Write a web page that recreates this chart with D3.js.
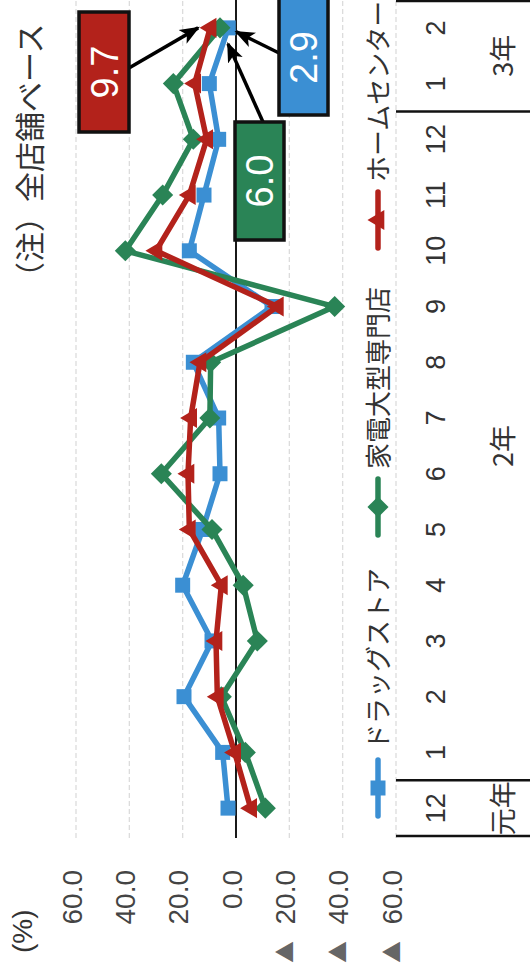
<!DOCTYPE html>
<html><head><meta charset="utf-8">
<script src="https://cdn.jsdelivr.net/npm/d3@7"></script>
<style>html,body{margin:0;padding:0;background:#fff;overflow:hidden}</style>
</head><body><svg id="c" width="530" height="975"></svg>
<script>
// ---------- data ----------
const months = ["12","1","2","3","4","5","6","7","8","9","10","11","12","1","2"];
const yearLabels = ["元年","2年","3年"];
const yearStarts = [0, 1, 13];
const yearEnds = [0, 12, 14];
const drugstore   = [3.0, 5.0, 19.5, 9.0, 20.0, 12.5, 6.0, 6.5, 16.0, -13.5, 17.5, 12.0, 6.5, 10.0, 2.9];
const homecenter  = [-5.5, 0.5, 7.0, 7.5, 5.5, 17.5, 18.0, 17.0, 13.5, -15.5, 30.0, 17.5, 11.0, 15.5, 9.7];
const electronics = [-11.0, -3.5, 5.5, -8.0, -2.7, 9.0, 28.0, 9.8, 9.5, -37.0, 41.5, 27.5, 16.0, 23.5, 6.0];
const seriesNames = ["ドラッグストア","家電大型専門店","ホームセンター"];
const yTicks = [60, 40, 20, 0, -20, -40, -60];
const yTickLabels = ["60.0","40.0","20.0","0.0","▲20.0","▲40.0","▲60.0"];
const calloutLabels = ["2.9","6.0","9.7"];
const noteText = "（注）全店舗ベース";
const unitText = "(%)";

// ---------- setup ----------
const W = 975, H = 530; // virtual (unrotated) frame
const svg = d3.select("#c");
const g = svg.append("g").attr("transform", "translate(0,975) rotate(-90)");
const NUM = "'Liberation Sans', Arial, sans-serif";
const JP = "'Noto Sans CJK JP', 'Noto Sans', sans-serif";

const x = d3.scaleBand().domain(d3.range(months.length)).range([139, 975]).padding(0);
const cx = i => x(i) + x.bandwidth() / 2;
const y = d3.scaleLinear().domain([-60, 60]).range([396, 76]);

const colors = ["#3b8fd3", "#2a8456", "#b3221b"];
const series = [drugstore, electronics, homecenter];

// gridlines
g.selectAll("line.grid").data(yTicks).join("line")
  .attr("x1", 137).attr("x2", W)
  .attr("y1", d => y(d)).attr("y2", d => y(d))
  .attr("stroke", d => d === 0 ? "#000" : "#dcdcdc")
  .attr("stroke-width", d => d === 0 ? 1.8 : 1.3)
  .attr("stroke-dasharray", d => d === 0 ? null : "5,3");

// y tick labels
yTicks.forEach((t, k) => {
  const lab = yTickLabels[k];
  const neg = lab.startsWith("▲");
  g.append("text").attr("x", 105).attr("y", y(t) - 4).attr("dy", "0.35em")
    .attr("text-anchor", "end").attr("font-family", NUM).attr("font-size", 28)
    .attr("fill", "#444").text(neg ? lab.slice(1) : lab);
  if (neg) {
    g.append("text").attr("x", 12).attr("y", y(t) - 4).attr("dy", "0.35em")
      .attr("font-family", JP).attr("font-size", 22).attr("fill", "#666").text("▲");
  }
});
g.append("text").attr("x", 22).attr("y", 32).attr("font-family", NUM).attr("font-size", 28)
  .attr("fill", "#333").text(unitText);

// note
g.append("text").attr("x", 683).attr("y", 41).attr("font-family", JP).attr("font-size", 30)
  .attr("fill", "#333").text(noteText);

// table (category axis)
g.selectAll("text.month").data(months).join("text")
  .attr("x", (d, i) => cx(i)).attr("y", 445).attr("text-anchor", "middle")
  .attr("font-family", NUM).attr("font-size", 27).attr("fill", "#333").text(d => d);
yearLabels.forEach((lab, k) => {
  const a = x(yearStarts[k]), b = x(yearEnds[k]) + x.bandwidth();
  g.append("text").attr("x", (a + b) / 2).attr("y", 513).attr("text-anchor", "middle")
    .attr("font-family", JP).attr("font-size", 27).attr("fill", "#333").text(lab);
});
const bounds = [x(0), x(1), x(13), W - 1];
g.selectAll("line.tbl").data(bounds).join("line")
  .attr("x1", d => d).attr("x2", d => d).attr("y1", 396).attr("y2", H)
  .attr("stroke", "#111").attr("stroke-width", 2.5);

// symbols
function markerPath(k, s) {
  if (k === 0) return `M${-s/2},${-s/2}h${s}v${s}h${-s}Z`;
  if (k === 1) { const r = s * 0.62; return `M0,${-r}L${r},0L0,${r}L${-r},0Z`; }
  const r = s * 0.62; return `M0,${-r}L${r*0.95},${r*0.6}L${-r*0.95},${r*0.6}Z`;
}

// series
const line = d3.line().x((d, i) => cx(i)).y(d => y(d));
series.forEach((data, k) => {
  g.append("path").datum(data).attr("d", line).attr("fill", "none")
    .attr("stroke", colors[k]).attr("stroke-width", 5.5).attr("stroke-linejoin", "round");
  g.selectAll(null).data(data).join("path")
    .attr("transform", (d, i) => `translate(${cx(i)},${y(d)})`)
    .attr("d", markerPath(k, k === 0 ? 15 : 17)).attr("fill", colors[k]);
});

// legend
const legStarts = [159, 440, 727];
seriesNames.forEach((name, k) => {
  const x0 = legStarts[k], ly = 378;
  g.append("line").attr("x1", x0).attr("x2", x0 + 56).attr("y1", ly).attr("y2", ly)
    .attr("stroke", colors[k]).attr("stroke-width", 5.5).attr("stroke-linecap", "round");
  g.append("path").attr("transform", `translate(${x0 + 28},${ly})`)
    .attr("d", markerPath(k, k === 0 ? 15 : 17)).attr("fill", colors[k]);
  g.append("text").attr("x", x0 + 66).attr("y", ly + 10).attr("font-family", JP)
    .attr("font-size", 26).attr("fill", "#333").text(name);
});

// arrowhead marker
svg.append("defs").append("marker").attr("id", "ah")
  .attr("markerUnits", "userSpaceOnUse").attr("markerWidth", 20).attr("markerHeight", 20)
  .attr("viewBox", "0 0 20 20").attr("refX", 18).attr("refY", 10).attr("orient", "auto")
  .append("path").attr("d", "M0,2L20,10L0,18L5,10Z").attr("fill", "#000");

// callouts
const last = months.length - 1;
const callouts = [
  {k: 2, label: calloutLabels[2], box: [843, 963, 79, 129], from: [907, 129], off: [0, -12]},
  {k: 0, label: calloutLabels[0], box: [860, 990, 279, 328], from: [922, 279], off: [-4, 8]},
  {k: 1, label: calloutLabels[1], box: [735, 853, 235, 284], from: [853, 263], off: [-16, 8]}
];
callouts.forEach(c => {
  const px = cx(last), py = y(series[c.k][last]);
  g.append("line").attr("x1", c.from[0]).attr("y1", c.from[1])
    .attr("x2", px + c.off[0]).attr("y2", py + c.off[1])
    .attr("stroke", "#000").attr("stroke-width", 3.5).attr("marker-end", "url(#ah)");
  const [a, b, t, u] = c.box;
  g.append("rect").attr("x", a).attr("y", t).attr("width", b - a).attr("height", u - t)
    .attr("fill", colors[c.k]).attr("stroke", "#111").attr("stroke-width", 3.5);
  g.append("text").attr("x", (a + Math.min(b, W)) / 2).attr("y", (t + u) / 2).attr("dy", "0.36em")
    .attr("text-anchor", "middle").attr("font-family", NUM).attr("font-size", 38)
    .attr("fill", "#fff").text(c.label);
});
</script>
</body></html>
